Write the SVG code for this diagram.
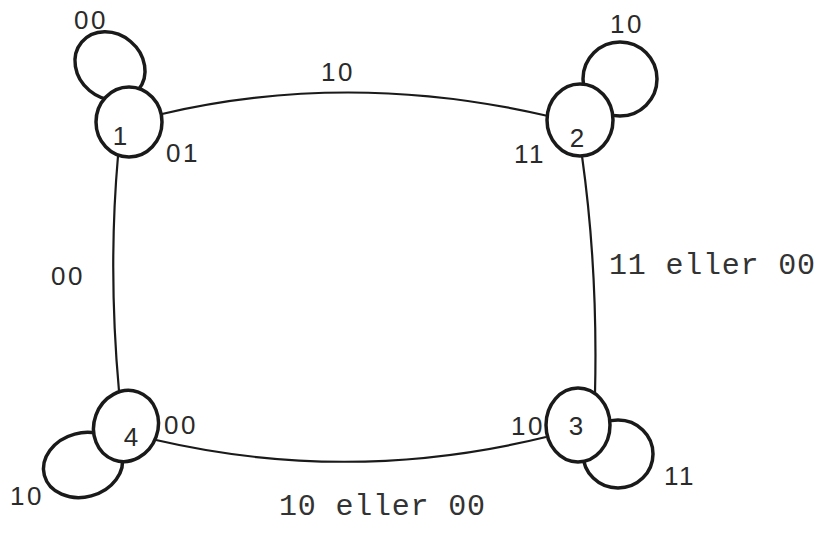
<svg xmlns="http://www.w3.org/2000/svg" width="819" height="533" viewBox="0 0 819 533">
<style>
.edge{fill:none;stroke:#1a1a1a;stroke-width:2.2}
.loop{fill:none;stroke:#1a1a1a;stroke-width:3.5}
.node{fill:#fff;stroke:#1a1a1a;stroke-width:3.5}
.lbl{font-family:"Liberation Sans",Arial,sans-serif;font-size:26px;fill:#2a2a2a;letter-spacing:2.5px}
.num{font-family:"Liberation Sans",Arial,sans-serif;font-size:26px;fill:#2a2a2a;text-anchor:middle}
.mono{font-family:"Liberation Mono","Courier New",monospace;font-size:30px;fill:#333;letter-spacing:0.8px}
</style>
<rect width="819" height="533" fill="#fff"/>
<g id="connectors">
<path class="edge" d="M162,114 Q350,70 548,116"/>
<path class="edge" d="M582,156 Q598,270 595,394"/>
<path class="edge" d="M546,437 Q350,485 156,440"/>
<path class="edge" d="M118,156 Q108,270 119,391"/>
</g>
<g id="node1">
<ellipse class="loop" cx="110" cy="66" rx="37" ry="32" transform="rotate(40 110 66)"/>
<ellipse class="node" cx="129" cy="122" rx="33" ry="35"/>
<text class="num" x="120" y="145">1</text>
</g>
<g id="node2">
<ellipse class="loop" cx="620" cy="79" rx="37" ry="37"/>
<ellipse class="node" cx="580" cy="120" rx="33" ry="36"/>
<text class="num" x="577" y="147">2</text>
</g>
<g id="node3">
<ellipse class="loop" cx="618" cy="454" rx="35" ry="34"/>
<ellipse class="node" cx="578" cy="425" rx="32" ry="37"/>
<text class="num" x="576" y="435">3</text>
</g>
<g id="node4">
<ellipse class="loop" cx="83" cy="465" rx="40" ry="32" transform="rotate(-15 83 465)"/>
<ellipse class="node" cx="126" cy="426" rx="32" ry="36" transform="rotate(20 126 426)"/>
<text class="num" x="131" y="446">4</text>
</g>
<g id="labels">
<text class="lbl" x="74" y="29">00</text>
<text class="lbl" x="166" y="162">01</text>
<text class="lbl" x="321" y="81">10</text>
<text class="lbl" x="610" y="33">10</text>
<text class="lbl" x="514" y="163">11</text>
<text class="lbl" x="51" y="285">00</text>
<text class="mono" x="609" y="274">11 eller 00</text>
<text class="lbl" x="164" y="434">00</text>
<text class="lbl" x="511" y="435">10</text>
<text class="lbl" x="664" y="485">11</text>
<text class="mono" x="279" y="515">10 eller 00</text>
<text class="lbl" x="10" y="505">10</text>
</g>
</svg>
